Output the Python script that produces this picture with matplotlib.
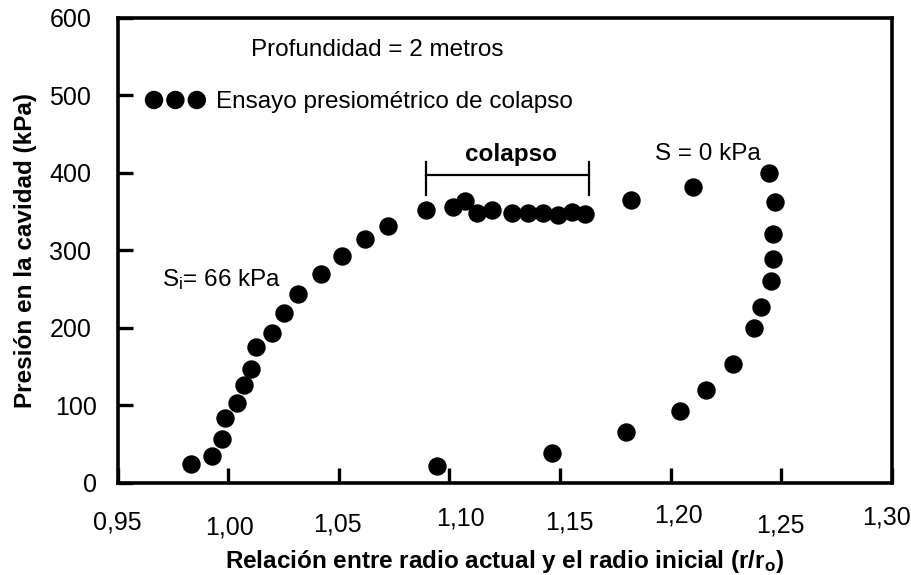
import matplotlib
matplotlib.use("Agg")
import matplotlib.pyplot as plt
from matplotlib.transforms import ScaledTranslation

plt.rcParams['font.family'] = ['Liberation Sans', 'DejaVu Sans']
plt.rcParams['mathtext.default'] = 'regular'

# Ensayo presiométrico de colapso: relación r/ro y presión en la cavidad (kPa)
r_ro = [0.9831, 0.9928, 0.9974, 0.9988, 1.0038, 1.0072, 1.0102, 1.0128,
        1.0199, 1.0253, 1.0314, 1.0419, 1.0516, 1.0618, 1.0724, 1.0893,
        1.1018, 1.1071, 1.1124, 1.1191, 1.1282, 1.1357, 1.1425, 1.1493,
        1.1553, 1.1614,
        1.1820, 1.2101, 1.2443, 1.2473, 1.2462, 1.2462, 1.2455, 1.2408,
        1.2376, 1.2280, 1.2161, 1.2041, 1.1799, 1.1463, 1.0943]
presion = [25.0, 34.9, 57.1, 84.1, 103.3, 127.0, 147.0, 174.8,
           194.1, 219.8, 243.3, 270.2, 292.6, 315.1, 331.1, 352.4,
           355.9, 363.6, 348.2, 351.6, 348.5, 348.5, 348.0, 345.5,
           349.4, 347.5,
           364.4, 381.5, 399.5, 362.3, 321.6, 289.5, 260.5, 226.6,
           199.6, 153.4, 119.6, 92.7, 65.7, 39.2, 22.1]

xticks = [0.95, 1.00, 1.05, 1.10, 1.15, 1.20, 1.25, 1.30]
xtick_labels = ['0,95', '1,00', '1,05', '1,10', '1,15', '1,20', '1,25', '1,30']
yticks = [0, 100, 200, 300, 400, 500, 600]

colapso_x = (1.0893, 1.1629)
colapso_y = 397

FS = 17.5

fig = plt.figure(figsize=(9.11, 5.75), dpi=100)
ax = fig.add_axes([0.129, 0.16, 0.850, 0.809])

ax.scatter(r_ro, presion, s=150, color='black', zorder=3,
           label='Ensayo presiométrico de colapso')

# bracket over the collapse zone
ax.plot(colapso_x, [colapso_y, colapso_y], color='black', lw=1.6)
for xc in colapso_x:
    ax.plot([xc, xc], [colapso_y - 25, colapso_y + 17], color='black', lw=1.6)

ax.text(1.1277, 424, 'colapso', fontsize=FS, fontweight='bold',
        ha='center', va='center')
ax.text(1.1929, 424, 'S = 0 kPa', fontsize=FS, ha='left', va='center')
ax.text(0.9699, 262, r'S$_{i}$= 66 kPa', fontsize=FS, ha='left', va='center')
ax.text(1.0105, 559, 'Profundidad = 2 metros', fontsize=FS,
        ha='left', va='center')

ax.legend(loc='center left', bbox_to_anchor=(0.0377, 0.818), frameon=False,
          scatterpoints=3, scatteryoffsets=[0.5], handlelength=2.36,
          handletextpad=0.48, borderpad=0, borderaxespad=0, fontsize=FS)

ax.set_xlim(0.95, 1.30)
ax.set_ylim(0, 600)
ax.set_xticks(xticks)
ax.set_xticklabels(xtick_labels)
ax.set_yticks(yticks)

for side in ax.spines.values():
    side.set_linewidth(2.6)

ax.tick_params(axis='both', direction='in', length=11, width=2.4,
               labelsize=18)
ax.tick_params(axis='x', top=False)
ax.tick_params(axis='y', right=False)

# uneven label placement, as in the original sheet
x_pads = [20, 23.5, 21, 16.8, 20, 15, 22.3, 16.3]
x_shift = [0, 1, -1, 11, 9, 7.5, -1, -5]
for tick, pad, dx in zip(ax.xaxis.get_major_ticks(), x_pads, x_shift):
    tick.set_pad(pad)
    tick.label1.set_transform(tick.label1.get_transform() +
                              ScaledTranslation(dx / 100, 0,
                                                fig.dpi_scale_trans))
y_pads = [15, 15, 19, 19, 19, 19, 19]
for tick, pad in zip(ax.yaxis.get_major_ticks(), y_pads):
    tick.set_pad(pad)

ax.set_xlabel(r'Relación entre radio actual y el radio inicial (r/r$_{o}$)',
              fontsize=FS, fontweight='bold', labelpad=6)
ax.set_ylabel('Presión en la cavidad (kPa)', fontsize=FS, fontweight='bold',
              labelpad=9)

fig.savefig('out.png', dpi=100)
